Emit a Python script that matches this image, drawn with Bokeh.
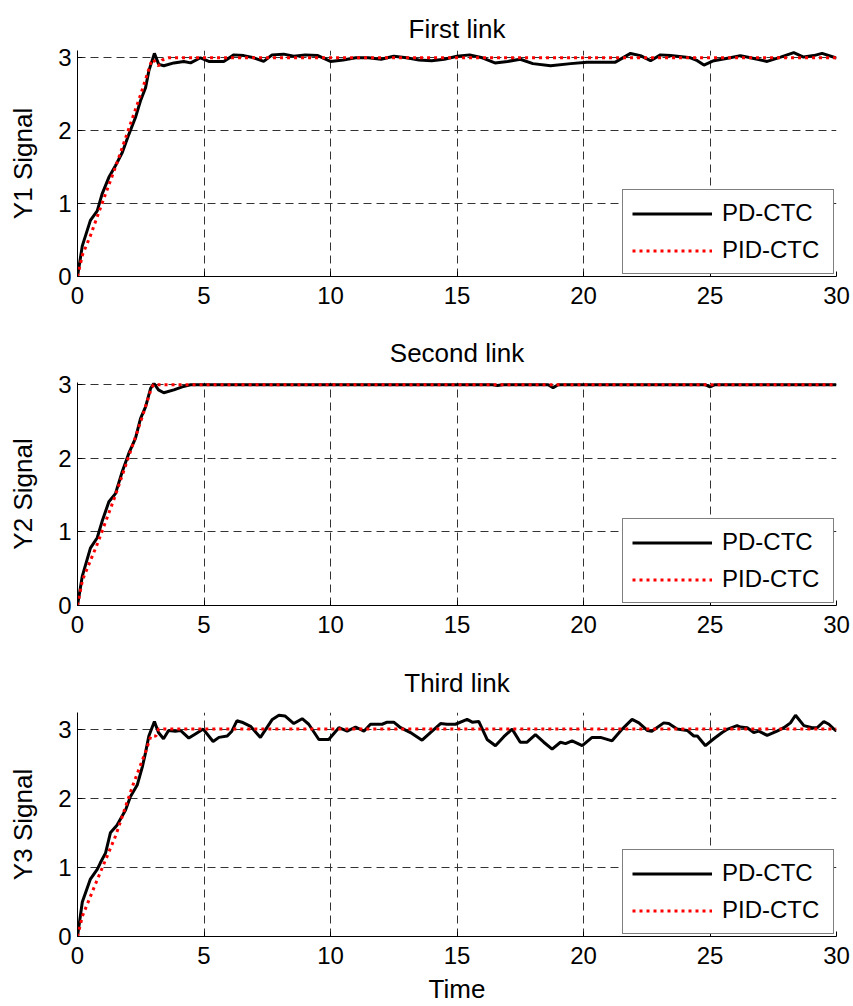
from bokeh.plotting import figure
from bokeh.layouts import column
from bokeh.models import Range1d
from bokeh.embed import file_html
from bokeh.resources import INLINE

# ---------------- data ----------------
x_ticks = [0, 5, 10, 15, 20, 25, 30]
y_ticks = [0, 1, 2, 3]
titles = ["First link", "Second link", "Third link"]
ylabels = ["Y1 Signal", "Y2 Signal", "Y3 Signal"]
xlabel = "Time"
series_names = ["PD-CTC", "PID-CTC"]

t1_pd = [0, 0.19, 0.51, 0.78, 0.97, 1.24, 1.5, 1.77, 2.03, 2.29, 2.49, 2.69, 2.82, 3.04, 3.21, 3.41,
         3.81, 4.2, 4.47, 4.86, 5.19, 5.78, 6.18, 6.57, 6.97, 7.36, 7.69, 8.15, 8.55, 9.0, 9.5, 10.0,
         10.5, 11.0, 11.5, 12.0, 12.5, 13.0, 13.5, 14.0, 14.5, 15.0, 15.5, 16.0, 16.5, 17.0, 17.5,
         18.0, 18.7, 19.49, 20.14, 21.26, 21.86, 22.25, 22.65, 23.04, 23.44, 24.23, 24.5, 24.76,
         25.15, 25.8, 26.2, 26.6, 27.26, 27.79, 28.31, 28.7, 29.1, 29.43, 29.96, 30]
y1_pd = [0, 0.42, 0.77, 0.9, 1.13, 1.36, 1.52, 1.7, 1.95, 2.18, 2.41, 2.59, 2.82, 3.06, 2.91, 2.89,
         2.93, 2.95, 2.93, 3.0, 2.95, 2.95, 3.04, 3.03, 3.0, 2.95, 3.04, 3.05, 3.02, 3.04, 3.03, 2.95,
         2.97, 3.0, 3.0, 2.98, 3.02, 3.0, 2.97, 2.96, 2.98, 3.02, 3.04, 3.0, 2.93, 2.95, 2.98,
         2.92, 2.89, 2.92, 2.94, 2.94, 3.06, 3.03, 2.96, 3.04, 3.03, 3.0, 2.96, 2.9,
         2.96, 3.0, 3.03, 3.0, 2.95, 3.01, 3.07, 3.01, 3.03, 3.06, 3.0, 3.0]
t1_pid = [0, 0.2, 0.5, 1.0, 1.5, 2.0, 2.5, 2.9, 3.0, 3.1, 3.2, 3.35, 3.6, 30]
y1_pid = [0, 0.3, 0.55, 1.03, 1.5, 2.0, 2.5, 2.93, 2.98, 2.92, 2.89, 2.97, 3.0, 3.0]

t2_pd = [0, 0.19, 0.51, 0.78, 0.97, 1.24, 1.5, 1.77, 2.03, 2.29, 2.49, 2.69, 2.89, 3.02, 3.2, 3.41,
         3.81, 4.14, 4.47, 5.0, 16.4, 16.6, 16.8, 18.6, 18.8, 19.0, 24.8, 25.0, 25.2, 30]
y2_pd = [0, 0.4, 0.78, 0.92, 1.14, 1.41, 1.52, 1.82, 2.07, 2.27, 2.54, 2.7, 2.95, 3.02, 2.93, 2.89,
         2.93, 2.97, 3.0, 3.0, 3.0, 2.99, 3.0, 3.0, 2.96, 3.0, 3.0, 2.97, 3.0, 3.0]
t2_pid = [0, 0.2, 0.8, 1.5, 2.0, 2.5, 2.9, 3.0, 30]
y2_pid = [0, 0.35, 0.85, 1.5, 2.0, 2.5, 2.93, 3.0, 3.0]

t3_pd = [0, 0.19, 0.51, 0.78, 0.91, 1.11, 1.3, 1.56, 1.9, 2.09, 2.36, 2.56, 2.69, 2.82, 3.04, 3.2,
         3.4, 3.6, 3.87, 4.07, 4.4, 4.66, 4.97, 5.36, 5.59, 5.92, 6.1, 6.3, 6.5, 6.84, 7.23, 7.7,
         7.96, 8.2, 8.55, 8.88, 9.14, 9.54, 9.93, 10.33, 10.66, 10.99, 11.32, 11.58, 12.04, 12.24,
         12.5, 12.77, 13.16, 13.62, 13.95, 14.35, 14.6, 14.94, 15.4, 15.6, 15.86, 16.19, 16.52,
         16.85, 17.18, 17.5, 17.77, 18.1, 18.43, 18.76, 19.09, 19.29, 19.55, 19.95, 20.34, 20.67,
         21.13, 21.53, 21.92, 22.19, 22.52, 22.7, 23.17, 23.37, 23.7, 24.1, 24.36, 24.5, 24.82,
         25.15, 25.48, 25.7, 26.07, 26.2, 26.47, 26.73, 26.93, 27.26, 27.65, 27.92, 28.18, 28.38,
         28.71, 29.04, 29.24, 29.5, 29.7, 29.96, 30]
y3_pd = [0, 0.5, 0.83, 0.97, 1.07, 1.21, 1.5, 1.61, 1.83, 2.02, 2.19, 2.45, 2.66, 2.9, 3.11, 2.95,
         2.86, 2.98, 2.97, 2.98, 2.87, 2.93, 3.0, 2.82, 2.88, 2.9, 2.97, 3.12, 3.1, 3.04, 2.88, 3.14,
         3.2, 3.19, 3.08, 3.15, 3.07, 2.85, 2.85, 3.02, 2.97, 3.03, 2.97, 3.07, 3.07, 3.1,
         3.1, 3.02, 2.95, 2.84, 2.95, 3.08, 3.07, 3.07, 3.14, 3.1, 3.11, 2.85, 2.76,
         2.89, 3.0, 2.81, 2.81, 2.92, 2.81, 2.71, 2.81, 2.79, 2.83, 2.76, 2.88, 2.88,
         2.83, 3.0, 3.14, 3.09, 2.98, 2.97, 3.09, 3.08, 3.0, 2.98, 2.9, 2.9, 2.76,
         2.86, 2.95, 3.0, 3.05, 3.03, 3.02, 2.95, 2.97, 2.91, 2.97, 3.02, 3.09, 3.2,
         3.05, 3.02, 3.02, 3.11, 3.07, 2.98, 2.98]
t3_pid = [0, 0.2, 0.7, 1.5, 2.2, 2.7, 2.9, 3.1, 3.2, 30]
y3_pid = [0, 0.3, 0.75, 1.45, 2.2, 2.68, 2.9, 2.9, 3.0, 3.0]

y_tops = [3.1, 3.03, 3.24]

# ---------------- layout ----------------
FONT = "Liberation Sans"
W = 853
heights = [320, 330, 356]
tops = [50, 61, 61]
bottoms = [44, 45, 68]
title_standoffs = [10, 30, 30]
title_valign = ["top", "bottom", "bottom"]

series = [(t1_pd, y1_pd, t1_pid, y1_pid),
          (t2_pd, y2_pd, t2_pid, y2_pid),
          (t3_pd, y3_pd, t3_pid, y3_pid)]

figs = []
for i in range(3):
    p = figure(width=W, height=heights[i], output_backend="svg", toolbar_location=None,
               x_range=Range1d(0, 30), y_range=Range1d(0, y_tops[i]),
               min_border_left=77, min_border_right=17,
               min_border_top=tops[i], min_border_bottom=bottoms[i],
               title=titles[i])
    tp, yp, tq, yq = series[i]
    p.line(tp, yp, line_color="black", line_width=3, legend_label=series_names[0])
    p.line(tq, yq, line_color="red", line_width=3, line_dash="3 4", legend_label=series_names[1])

    p.title.text_font = FONT
    p.title.text_font_size = "26px"
    p.title.text_font_style = "normal"
    p.title.text_color = "black"
    p.title.align = "center"
    p.title.vertical_align = title_valign[i]
    p.title.standoff = title_standoffs[i]

    p.outline_line_color = None
    p.background_fill_color = "white"
    p.border_fill_color = "white"

    for ax in (p.xaxis[0], p.yaxis[0]):
        ax.axis_line_color = "black"
        ax.axis_line_width = 1
        ax.major_tick_in = 5
        ax.major_tick_out = 0
        ax.minor_tick_line_color = None
        ax.major_tick_line_color = "black"
        ax.major_label_text_font = FONT
        ax.major_label_text_font_size = "24px"
        ax.major_label_text_color = "black"
        ax.axis_label_text_font = FONT
        ax.axis_label_text_font_size = "26px"
        ax.axis_label_text_font_style = "normal"
        ax.axis_label_text_color = "black"
    p.xaxis.ticker = x_ticks
    p.yaxis.ticker = y_ticks
    p.xaxis.major_label_standoff = 10
    p.yaxis.major_label_standoff = 6
    p.yaxis.axis_label = ylabels[i]
    p.yaxis.axis_label_standoff = 17
    if i == 2:
        p.xaxis.axis_label = xlabel
        p.xaxis.axis_label_standoff = 7

    for g in (p.xgrid[0], p.ygrid[0]):
        g.grid_line_color = "#333333"
        g.grid_line_dash = "8 5"
        g.grid_line_width = 1

    lg = p.legend[0]
    lg.location = "bottom_right"
    lg.margin = 2
    lg.border_line_color = "black"
    lg.border_line_width = 1
    lg.background_fill_color = "white"
    lg.background_fill_alpha = 1
    lg.label_text_font = FONT
    lg.label_text_font_size = "24px"
    lg.label_text_color = "black"
    lg.glyph_width = 80
    lg.glyph_height = 27
    lg.label_height = 27
    lg.label_width = 102
    lg.label_standoff = 10
    lg.padding = 9
    lg.spacing = 9
    figs.append(p)

layout = column(*figs, spacing=0)
open("out.html", "w").write(file_html(layout, INLINE))
